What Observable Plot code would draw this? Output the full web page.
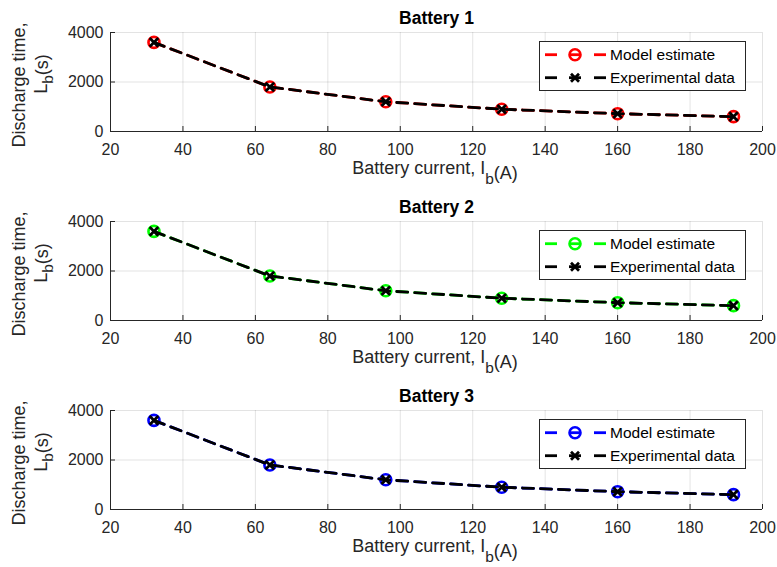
<!DOCTYPE html>
<html><head><meta charset="utf-8">
<script src="https://cdn.jsdelivr.net/npm/d3@7"></script>
<script src="https://cdn.jsdelivr.net/npm/@observablehq/plot@0.6"></script>
<style>
body{margin:0;background:#fff;font-family:"Liberation Sans",Arial,Helvetica,sans-serif;}
#chart svg{display:block}
</style></head><body><div id="chart"></div>
<script>
// Data
const current = [32, 64, 96, 128, 160, 192];
const model1 = [3600, 1800, 1200, 900, 720, 600];
const exp1   = [3600, 1800, 1200, 900, 720, 600];
const model2 = [3600, 1800, 1200, 900, 720, 600];
const exp2   = [3600, 1800, 1200, 900, 720, 600];
const model3 = [3600, 1800, 1200, 900, 720, 600];
const exp3   = [3600, 1800, 1200, 900, 720, 600];
const titles = ["Battery 1", "Battery 2", "Battery 3"];
const colors = ["#ff0000", "#00ff00", "#0000ff"];
const xTicks = [20, 40, 60, 80, 100, 120, 140, 160, 180, 200];
const yTicks = [0, 2000, 4000];
const legendLabels = ["Model estimate", "Experimental data"];

const FONT = '"Liberation Sans", Arial, Helvetica, sans-serif';
const INK = "#262626";
const batteries = [
  {title: titles[0], color: colors[0], model: model1, exp: exp1},
  {title: titles[1], color: colors[1], model: model2, exp: exp2},
  {title: titles[2], color: colors[2], model: model3, exp: exp3}
];
const chart = document.getElementById("chart");

for (const b of batteries) {
  const model = current.map((x, i) => ({x, y: b.model[i]}));
  const exp = current.map((x, i) => ({x, y: b.exp[i]}));
  const svg = Plot.plot({
    width: 777, height: 189,
    marginTop: 32, marginBottom: 58, marginLeft: 110, marginRight: 15,
    style: {fontFamily: FONT, fontSize: "16px", color: INK, background: "white", overflow: "visible"},
    x: {domain: [20, 200]},
    y: {domain: [0, 4000]},
    marks: [
      Plot.gridX(xTicks, {stroke: "#000", strokeOpacity: 0.11}),
      Plot.gridY(yTicks, {stroke: "#000", strokeOpacity: 0.11}),
      Plot.axisX(xTicks, {tickSize: -5, tickPadding: 17, label: null, fontSize: 16, stroke: INK, fill: INK}),
      Plot.axisY(yTicks, {tickSize: -5, tickPadding: 12, label: null, fontSize: 16, tickFormat: d => String(d), stroke: INK, fill: INK}),
      Plot.ruleY([0], {stroke: INK, strokeWidth: 1}),
      Plot.ruleX([20], {stroke: INK, strokeWidth: 1}),
      Plot.line(model, {x: "x", y: "y", stroke: b.color, strokeWidth: 2.8, strokeDasharray: "11,7"}),
      Plot.dot(model, {x: "x", y: "y", r: 5.5, stroke: b.color, strokeWidth: 2.6}),
      Plot.line(exp, {x: "x", y: "y", stroke: "#000", strokeWidth: 2.8, strokeDasharray: "11,7"}),
      Plot.dot(exp, {x: "x", y: "y", symbol: "times", r: 4, stroke: "#000", strokeWidth: 2.8}),
      Plot.text([b.title], {frameAnchor: "top", dy: -9, lineAnchor: "bottom", fontWeight: "bold", fontSize: 17.5, fill: "#000"})
    ]
  });
  const s = d3.select(svg);
  // x label
  const xl = s.append("text").attr("x", 435).attr("y", 174).attr("text-anchor", "middle")
    .attr("font-size", 18).attr("fill", INK).attr("font-family", FONT);
  xl.append("tspan").text("Battery current, I");
  xl.append("tspan").attr("dy", 10).attr("font-size", 15.5).text("b");
  xl.append("tspan").attr("dy", -5).text("(A)");
  // y label
  s.append("text").attr("transform", "translate(25,85) rotate(-90)").attr("text-anchor", "middle")
    .attr("font-size", 18).attr("fill", INK).attr("font-family", FONT).text("Discharge time,");
  const yl = s.append("text").attr("transform", "translate(47,74) rotate(-90)").attr("text-anchor", "middle")
    .attr("font-size", 18).attr("fill", INK).attr("font-family", FONT);
  yl.append("tspan").text("L");
  yl.append("tspan").attr("dy", 6).attr("font-size", 15.5).text("b");
  yl.append("tspan").attr("dy", -5).text("(s)");
  // legend
  const g = s.append("g").attr("font-family", FONT).attr("font-size", 15.5).attr("fill", "#000")
    .attr("text-anchor", "start");
  g.append("rect").attr("x", 539.5).attr("y", 41.5).attr("width", 206).attr("height", 49)
    .attr("fill", "white").attr("stroke", INK).attr("stroke-width", 1);
  const rows = [{y: 54.7, color: b.color, kind: "circle"}, {y: 77.7, color: "#000", kind: "times"}];
  rows.forEach((r, i) => {
    for (const [a, c] of [[545, 557], [569, 581], [594, 606]]) {
      g.append("line").attr("x1", a).attr("x2", c).attr("y1", r.y).attr("y2", r.y)
        .attr("stroke", r.color).attr("stroke-width", 2.8);
    }
    if (r.kind === "circle") {
      g.append("circle").attr("cx", 575).attr("cy", r.y).attr("r", 5.5).attr("fill", "none")
        .attr("stroke", r.color).attr("stroke-width", 2.6);
    } else {
      g.append("path").attr("d", `M${575-4},${r.y-4}L${575+4},${r.y+4}M${575-4},${r.y+4}L${575+4},${r.y-4}`)
        .attr("stroke", "#000").attr("stroke-width", 2.8);
    }
    g.append("text").attr("x", 610).attr("y", r.y).attr("text-anchor", "start")
      .attr("dominant-baseline", "central").text(legendLabels[i]);
  });
  chart.appendChild(svg);
}
</script>
</body></html>
